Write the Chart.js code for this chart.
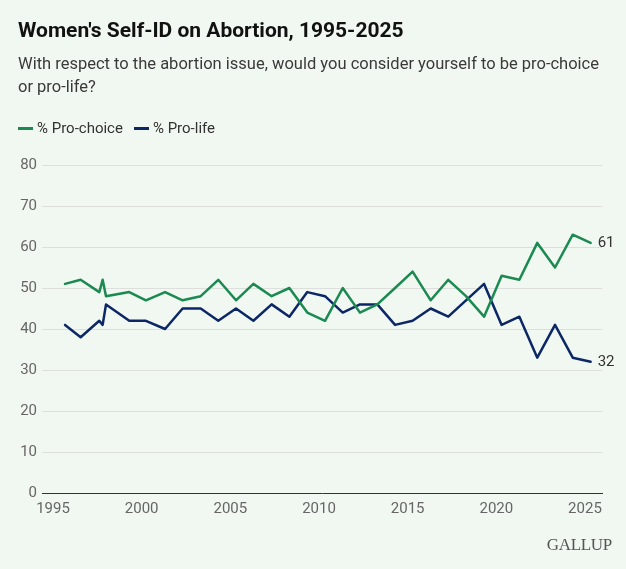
<!DOCTYPE html>
<html>
<head>
<meta charset="utf-8">
<script src="https://cdn.jsdelivr.net/npm/chart.js@4"></script>
<style>
  html, body { margin: 0; padding: 0; background: #f1f7f1; }
  body { width: 626px; height: 569px; position: relative; overflow: hidden; font-family: Roboto, "Noto Sans", sans-serif; }
  #title { position: absolute; left: 18px; top: 18px; font-size: 21px; line-height: 24px; font-weight: 700; color: #111; white-space: nowrap; }
  #subtitle { position: absolute; left: 18px; top: 52px; font-size: 16.5px; line-height: 23.4px; color: #3a3a3a; white-space: nowrap; }
  #legend { position: absolute; left: 18px; top: 119px; font-size: 15px; line-height: 18px; color: #333; display: flex; }
  #legend .item { display: flex; align-items: center; margin-right: 11px; }
  #legend .swatch { width: 15px; height: 3px; margin-right: 4px; }
  #wrap { position: absolute; left: 0; top: 0; width: 626px; height: 569px; }
  #brand { position: absolute; right: 14px; top: 535px; font-family: "Liberation Serif", "DejaVu Serif", serif; font-size: 17px; color: #555; letter-spacing: -0.3px; }
</style>
</head>
<body>
<div id="wrap"><canvas id="abortion-chart"></canvas></div>
<div id="title">Women's Self-ID on Abortion, 1995-2025</div>
<div id="subtitle">With respect to the abortion issue, would you consider yourself to be pro-choice<br>or pro-life?</div>
<div id="legend"></div>
<div id="brand">GALLUP</div>
<script>
// poll dates (fractional years) and results
var years = [1995.68, 1996.56, 1997.61, 1997.80, 1997.99, 1999.30, 2000.24, 2001.32, 2002.31, 2003.33,
  2004.32, 2005.32, 2006.30, 2007.33, 2008.33, 2009.34, 2010.34, 2011.34, 2012.31, 2013.29,
  2014.29, 2015.28, 2016.30, 2017.29, 2018.29, 2019.31, 2020.30, 2021.30, 2022.31, 2023.31,
  2024.31, 2025.32];
var proChoice = [51, 52, 49, 52, 48, 49, 47, 49, 47, 48, 52, 47, 51, 48, 50, 44, 42, 50, 44, 46,
  50, 54, 47, 52, 48, 43, 53, 52, 61, 55, 63, 61];
var proLife = [41, 38, 42, 41, 46, 42, 42, 40, 45, 45, 42, 45, 42, 46, 43, 49, 48, 44, 46, 46,
  41, 42, 45, 43, 47, 51, 41, 43, 33, 41, 33, 32];
var xTicks = [1995, 2000, 2005, 2010, 2015, 2020, 2025];
var yTicks = [0, 10, 20, 30, 40, 50, 60, 70, 80];

var green = '#1a8a50';
var navy = '#0c2766';

function points(values) {
  return years.map(function (yr, i) { return { x: yr, y: values[i] }; });
}

// label at the end of each line
var endLabels = {
  id: 'endLabels',
  afterDatasetsDraw: function (chart) {
    var ctx = chart.ctx;
    ctx.save();
    ctx.font = '15px Roboto';
    ctx.fillStyle = '#333';
    ctx.textBaseline = 'middle';
    chart.data.datasets.forEach(function (ds, i) {
      var pts = chart.getDatasetMeta(i).data;
      var last = pts[pts.length - 1];
      ctx.fillText(ds.data[ds.data.length - 1].y, last.x + 7, last.y);
    });
    ctx.restore();
  }
};

var ctx = document.getElementById('abortion-chart').getContext('2d');

var chart = new Chart(ctx, {
  type: 'line',
  data: {
    datasets: [{
      label: '% Pro-choice',
      data: points(proChoice),
      borderColor: green,
      backgroundColor: green,
      borderWidth: 2.5
    }, {
      label: '% Pro-life',
      data: points(proLife),
      borderColor: navy,
      backgroundColor: navy,
      borderWidth: 2.5
    }]
  },
  options: {
    responsive: true,
    maintainAspectRatio: false,
    animation: false,
    layout: { padding: { top: 165, left: 0, right: 24, bottom: 46 } },
    elements: {
      point: { radius: 0, hoverRadius: 0 },
      line: { tension: 0, borderJoinStyle: 'round', borderCapStyle: 'round' }
    },
    plugins: {
      legend: { display: false },
      tooltip: { enabled: false }
    },
    scales: {
      x: {
        type: 'linear',
        min: 1994.38,
        max: 2025.96,
        afterBuildTicks: function (axis) {
          axis.ticks = xTicks.map(function (v) { return { value: v }; });
        },
        afterFit: function (axis) { axis.height = 30; },
        grid: { display: false, drawTicks: false },
        border: { display: true, color: '#333', width: 1 },
        ticks: {
          padding: 7,
          color: '#666',
          font: { family: 'Roboto', size: 15 },
          maxRotation: 0,
          callback: function (v) { return String(v); }
        }
      },
      y: {
        min: 0,
        max: 80,
        afterBuildTicks: function (axis) {
          axis.ticks = yTicks.map(function (v) { return { value: v }; });
        },
        afterFit: function (axis) { axis.width = 42; },
        grid: {
          drawTicks: false,
          color: function (c) { return c.tick && c.tick.value === 0 ? 'rgba(0,0,0,0)' : '#dcdfdc'; },
          lineWidth: 1
        },
        border: { display: false },
        ticks: {
          padding: 5,
          color: '#666',
          font: { family: 'Roboto', size: 15 }
        }
      }
    }
  },
  plugins: [endLabels]
});

// legend from the chart's datasets
var legend = document.getElementById('legend');
chart.data.datasets.forEach(function (ds) {
  var item = document.createElement('div');
  item.className = 'item';
  var sw = document.createElement('span');
  sw.className = 'swatch';
  sw.style.background = ds.borderColor;
  var tx = document.createElement('span');
  tx.textContent = ds.label;
  item.appendChild(sw);
  item.appendChild(tx);
  legend.appendChild(item);
});
</script>
</body>
</html>
